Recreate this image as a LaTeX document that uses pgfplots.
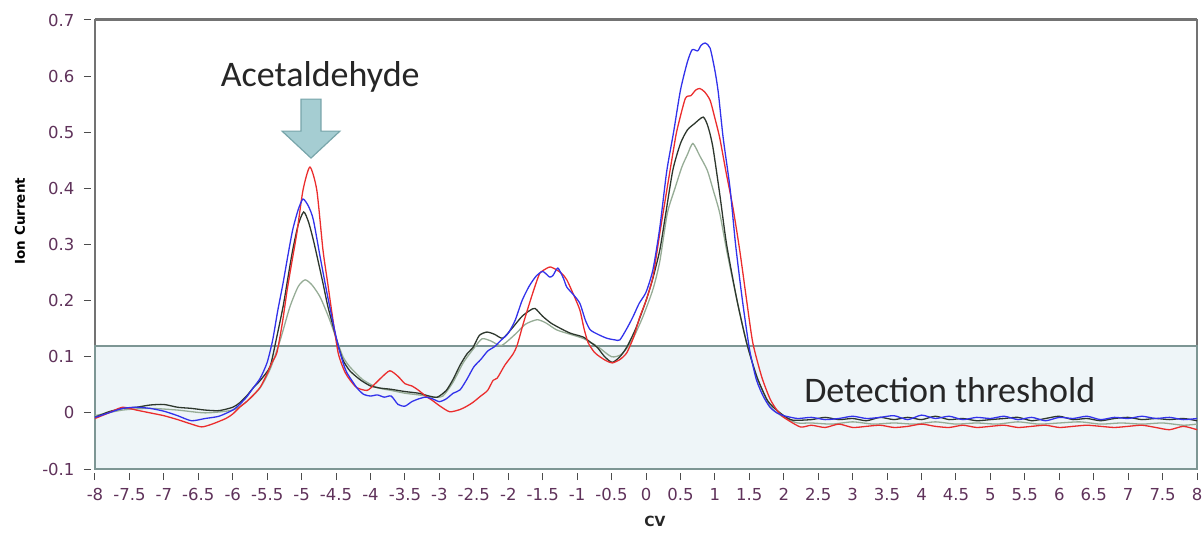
\documentclass[border=0pt]{standalone}
\usepackage{pgfplots}
\pgfplotsset{compat=1.18}
\usepackage{fontspec}
\setmainfont{DejaVu Sans}
\newfontfamily\calib{Carlito}
\definecolor{cblue}{RGB}{50,50,235}
\definecolor{cred}{RGB}{235,45,45}
\definecolor{cblack}{RGB}{45,55,45}
\definecolor{cgrey}{RGB}{150,172,150}
\definecolor{boxfill}{RGB}{238,245,248}
\definecolor{boxdraw}{RGB}{125,150,148}
\definecolor{framec}{RGB}{115,115,115}
\definecolor{tickc}{RGB}{95,50,90}
\definecolor{arrfill}{RGB}{165,205,210}
\definecolor{arrdraw}{RGB}{120,165,170}
\begin{document}
\begin{tikzpicture}
\begin{axis}[
  at={(0,0)}, anchor=south west,
  scale only axis, width=1102pt, height=449pt,
  xmin=-8, xmax=8, ymin=-0.1, ymax=0.7,
  enlargelimits=false,
  axis line style={draw=framec, line width=1.5pt},
  tick align=outside, xtick pos=bottom, ytick pos=left,
  major tick length=7pt,
  xtick style={draw=black!70, line width=1pt, yshift=-4pt},
  ytick style={draw=black!70, line width=1pt, xshift=-4pt},
  xtick={-8,-7.5,-7,-6.5,-6,-5.5,-5,-4.5,-4,-3.5,-3,-2.5,-2,-1.5,-1,-0.5,0,0.5,1,1.5,2,2.5,3,3.5,4,4.5,5,5.5,6,6.5,7,7.5,8},
  xticklabels={-8,-7.5,-7,-6.5,-6,-5.5,-5,-4.5,-4,-3.5,-3,-2.5,-2,-1.5,-1,-0.5,0,0.5,1,1.5,2,2.5,3,3.5,4,4.5,5,5.5,6,6.5,7,7.5,8},
  ytick={-0.1,0,0.1,0.2,0.3,0.4,0.5,0.6,0.7},
  yticklabels={-0.1,0,0.1,0.2,0.3,0.4,0.5,0.6,0.7},
  ticklabel style={font=\fontsize{16.5}{18}\selectfont, text=tickc},
  xticklabel style={yshift=-9pt},
  yticklabel style={xshift=-10pt},
  ylabel={\bfseries Ion Current},
  ylabel style={font=\fontsize{13.5}{15}\selectfont, at={(axis description cs:-0.068,0.552)}, anchor=center, rotate=0},
  clip=false,
]
% threshold region
\draw[fill=boxfill, draw=boxdraw, line width=2pt] (axis cs:-8,-0.1) rectangle (axis cs:8,0.12);
\draw[draw=framec, line width=3pt] (axis cs:-8,0.7) -- (axis cs:8,0.7);

\addplot[color=cgrey, line width=1.3pt, smooth, tension=0.4] coordinates {
(-8.0,-0.005) (-7.6,0.005) (-7.2,0.008) (-6.8,0.005) (-6.4,0.000) (-6.0,0.005) (-5.8,0.020) (-5.6,0.045) (-5.45,0.080) (-5.31,0.130) (-5.17,0.189) (-5.05,0.225) (-4.95,0.237) (-4.85,0.228) (-4.73,0.206) (-4.6,0.168) (-4.49,0.130) (-4.4,0.100) (-4.3,0.082) (-4.11,0.059) (-3.9,0.045) (-3.7,0.040) (-3.5,0.035) (-3.3,0.032) (-3.1,0.028) (-2.95,0.030) (-2.8,0.055) (-2.65,0.090) (-2.5,0.115) (-2.38,0.132) (-2.25,0.128) (-2.1,0.120) (-1.9,0.140) (-1.75,0.158) (-1.58,0.166) (-1.45,0.160) (-1.3,0.148) (-1.1,0.140) (-0.9,0.132) (-0.7,0.118) (-0.5,0.100) (-0.35,0.105) (-0.2,0.130) (-0.05,0.170) (0.1,0.220) (0.2,0.270) (0.31,0.356) (0.42,0.400) (0.52,0.438) (0.6,0.460) (0.68,0.480) (0.78,0.458) (0.89,0.432) (0.98,0.395) (1.07,0.356) (1.17,0.290) (1.32,0.201) (1.46,0.125) (1.61,0.064) (1.8,0.012) (2.0,-0.008) (2.2,-0.018) (2.4,-0.018) (2.7,-0.020) (3.0,-0.016) (3.3,-0.020) (3.6,-0.018) (3.9,-0.020) (4.2,-0.016) (4.5,-0.020) (4.8,-0.018) (5.1,-0.020) (5.4,-0.016) (5.7,-0.020) (6.0,-0.018) (6.3,-0.016) (6.6,-0.020) (6.9,-0.018) (7.2,-0.020) (7.5,-0.018) (7.8,-0.022) (8.0,-0.020)
};

\addplot[color=cblack, line width=1.3pt, smooth, tension=0.4] coordinates {
(-8.0,-0.008) (-7.8,0.002) (-7.6,0.008) (-7.4,0.010) (-7.2,0.014) (-7.0,0.015) (-6.8,0.010) (-6.6,0.008) (-6.4,0.005) (-6.2,0.004) (-6.0,0.010) (-5.9,0.018) (-5.8,0.030) (-5.7,0.045) (-5.6,0.058) (-5.46,0.082) (-5.37,0.130) (-5.27,0.189) (-5.2,0.240) (-5.13,0.290) (-5.05,0.335) (-4.97,0.358) (-4.9,0.340) (-4.83,0.308) (-4.76,0.270) (-4.69,0.231) (-4.62,0.190) (-4.54,0.153) (-4.47,0.120) (-4.4,0.094) (-4.3,0.075) (-4.15,0.059) (-4.0,0.048) (-3.85,0.044) (-3.7,0.042) (-3.5,0.038) (-3.3,0.035) (-3.15,0.030) (-3.03,0.028) (-2.9,0.040) (-2.8,0.060) (-2.7,0.085) (-2.6,0.105) (-2.51,0.117) (-2.42,0.138) (-2.31,0.144) (-2.2,0.140) (-2.08,0.133) (-1.95,0.150) (-1.8,0.172) (-1.68,0.183) (-1.61,0.186) (-1.5,0.172) (-1.38,0.160) (-1.25,0.151) (-1.1,0.142) (-0.91,0.135) (-0.8,0.125) (-0.71,0.117) (-0.6,0.100) (-0.49,0.090) (-0.38,0.100) (-0.28,0.117) (-0.15,0.150) (0.0,0.200) (0.1,0.240) (0.2,0.290) (0.28,0.350) (0.39,0.433) (0.5,0.480) (0.6,0.504) (0.7,0.515) (0.83,0.527) (0.9,0.510) (0.97,0.474) (1.07,0.390) (1.17,0.300) (1.32,0.201) (1.46,0.125) (1.61,0.064) (1.75,0.025) (1.84,0.011) (2.0,-0.005) (2.13,-0.013) (2.4,-0.012) (2.6,-0.008) (2.8,-0.012) (3.0,-0.010) (3.2,-0.014) (3.4,-0.008) (3.6,-0.012) (3.8,-0.008) (4.0,-0.012) (4.2,-0.006) (4.4,-0.012) (4.6,-0.010) (4.8,-0.014) (5.0,-0.012) (5.2,-0.010) (5.4,-0.008) (5.6,-0.014) (5.8,-0.010) (6.0,-0.006) (6.2,-0.012) (6.4,-0.010) (6.6,-0.014) (6.8,-0.010) (7.0,-0.008) (7.2,-0.012) (7.4,-0.010) (7.6,-0.012) (7.8,-0.010) (8.0,-0.014)
};

\addplot[color=cred, line width=1.3pt, smooth, tension=0.4] coordinates {
(-8.0,-0.010) (-7.8,0.000) (-7.6,0.010) (-7.4,0.005) (-7.2,0.000) (-7.0,-0.005) (-6.8,-0.012) (-6.6,-0.020) (-6.45,-0.025) (-6.3,-0.020) (-6.1,-0.010) (-6.0,-0.002) (-5.9,0.010) (-5.8,0.020) (-5.7,0.032) (-5.6,0.046) (-5.5,0.070) (-5.43,0.090) (-5.36,0.107) (-5.28,0.160) (-5.21,0.219) (-5.14,0.270) (-5.07,0.320) (-4.98,0.397) (-4.88,0.438) (-4.78,0.397) (-4.69,0.290) (-4.62,0.230) (-4.56,0.178) (-4.47,0.107) (-4.38,0.075) (-4.3,0.059) (-4.2,0.045) (-4.05,0.040) (-3.95,0.050) (-3.85,0.062) (-3.72,0.075) (-3.6,0.065) (-3.5,0.052) (-3.4,0.048) (-3.3,0.040) (-3.2,0.030) (-3.1,0.022) (-2.99,0.012) (-2.85,0.002) (-2.7,0.006) (-2.6,0.012) (-2.51,0.019) (-2.4,0.030) (-2.3,0.040) (-2.22,0.058) (-2.16,0.062) (-2.05,0.085) (-1.93,0.105) (-1.87,0.121) (-1.78,0.160) (-1.68,0.200) (-1.6,0.230) (-1.54,0.249) (-1.45,0.257) (-1.39,0.260) (-1.3,0.255) (-1.22,0.248) (-1.15,0.237) (-1.05,0.210) (-0.96,0.183) (-0.9,0.150) (-0.84,0.125) (-0.75,0.108) (-0.67,0.100) (-0.58,0.093) (-0.49,0.089) (-0.38,0.095) (-0.28,0.107) (-0.18,0.135) (-0.09,0.171) (0.0,0.200) (0.1,0.242) (0.2,0.320) (0.31,0.403) (0.4,0.470) (0.45,0.504) (0.57,0.560) (0.65,0.565) (0.72,0.575) (0.78,0.578) (0.85,0.572) (0.93,0.557) (1.0,0.525) (1.07,0.490) (1.16,0.430) (1.26,0.367) (1.36,0.290) (1.46,0.201) (1.55,0.125) (1.68,0.064) (1.8,0.025) (1.9,0.005) (2.0,-0.008) (2.24,-0.025) (2.4,-0.022) (2.6,-0.026) (2.8,-0.020) (3.0,-0.026) (3.2,-0.024) (3.4,-0.022) (3.6,-0.026) (3.8,-0.024) (4.0,-0.020) (4.2,-0.024) (4.4,-0.026) (4.6,-0.022) (4.8,-0.026) (5.0,-0.024) (5.2,-0.022) (5.4,-0.026) (5.6,-0.024) (5.8,-0.022) (6.0,-0.026) (6.2,-0.024) (6.4,-0.022) (6.6,-0.024) (6.8,-0.026) (7.0,-0.024) (7.2,-0.022) (7.4,-0.026) (7.6,-0.030) (7.8,-0.024) (8.0,-0.030)
};

\addplot[color=cblue, line width=1.3pt, smooth, tension=0.4] coordinates {
(-8.0,-0.008) (-7.8,0.000) (-7.6,0.008) (-7.4,0.010) (-7.2,0.008) (-7.0,0.003) (-6.8,-0.005) (-6.6,-0.014) (-6.4,-0.010) (-6.2,-0.006) (-6.0,0.005) (-5.9,0.015) (-5.8,0.028) (-5.7,0.045) (-5.6,0.062) (-5.5,0.090) (-5.42,0.130) (-5.35,0.180) (-5.27,0.231) (-5.2,0.280) (-5.13,0.326) (-5.05,0.362) (-4.98,0.381) (-4.9,0.368) (-4.83,0.344) (-4.73,0.277) (-4.62,0.206) (-4.49,0.130) (-4.4,0.090) (-4.34,0.071) (-4.2,0.045) (-4.1,0.033) (-4.0,0.030) (-3.9,0.032) (-3.8,0.028) (-3.7,0.030) (-3.6,0.015) (-3.5,0.012) (-3.4,0.020) (-3.3,0.025) (-3.2,0.028) (-3.1,0.025) (-3.0,0.020) (-2.9,0.025) (-2.8,0.035) (-2.7,0.041) (-2.6,0.060) (-2.5,0.082) (-2.4,0.095) (-2.3,0.110) (-2.2,0.118) (-2.1,0.130) (-2.0,0.142) (-1.9,0.165) (-1.8,0.200) (-1.7,0.225) (-1.6,0.243) (-1.5,0.252) (-1.4,0.242) (-1.35,0.245) (-1.28,0.258) (-1.2,0.240) (-1.15,0.224) (-1.05,0.210) (-0.96,0.195) (-0.88,0.165) (-0.81,0.148) (-0.7,0.140) (-0.57,0.133) (-0.45,0.130) (-0.38,0.130) (-0.28,0.150) (-0.19,0.171) (-0.1,0.195) (0.0,0.215) (0.1,0.255) (0.2,0.330) (0.3,0.430) (0.4,0.500) (0.5,0.575) (0.6,0.625) (0.67,0.647) (0.75,0.645) (0.8,0.655) (0.86,0.659) (0.93,0.650) (1.0,0.610) (1.05,0.570) (1.12,0.490) (1.22,0.400) (1.3,0.300) (1.4,0.200) (1.5,0.115) (1.6,0.060) (1.7,0.030) (1.8,0.010) (1.9,0.000) (2.0,-0.005) (2.2,-0.010) (2.4,-0.008) (2.6,-0.012) (2.8,-0.010) (3.0,-0.006) (3.2,-0.010) (3.4,-0.008) (3.6,-0.005) (3.8,-0.012) (4.0,-0.004) (4.2,-0.010) (4.4,-0.006) (4.6,-0.012) (4.8,-0.008) (5.0,-0.010) (5.2,-0.006) (5.4,-0.012) (5.6,-0.008) (5.8,-0.014) (6.0,-0.008) (6.2,-0.010) (6.4,-0.006) (6.6,-0.012) (6.8,-0.008) (7.0,-0.010) (7.2,-0.006) (7.4,-0.010) (7.6,-0.008) (7.8,-0.012) (8.0,-0.010)
};

% arrow
\draw[fill=arrfill, draw=arrdraw, line width=1.2pt]
  (axis cs:-5.009,0.559) -- (axis cs:-4.719,0.559) -- (axis cs:-4.719,0.502) -- (axis cs:-4.444,0.502)
  -- (axis cs:-4.864,0.454) -- (axis cs:-5.284,0.502) -- (axis cs:-5.009,0.502) -- cycle;
\node[font=\calib\fontsize{36}{40}\selectfont, text=black!85, anchor=base] at (axis cs:-4.73,0.581) {Acetaldehyde};
\node[font=\calib\fontsize{36}{40}\selectfont, text=black!85, anchor=base] at (axis cs:4.41,0.019) {Detection threshold};
\node[font=\bfseries\fontsize{14}{16}\selectfont, text=black!85, inner sep=0pt] at (axis cs:0.13,-0.193) {CV};
\end{axis}
\pgfresetboundingbox
\path[use as bounding box] (-95pt,-64pt) rectangle (1107pt,469pt);
\end{tikzpicture}
\end{document}
